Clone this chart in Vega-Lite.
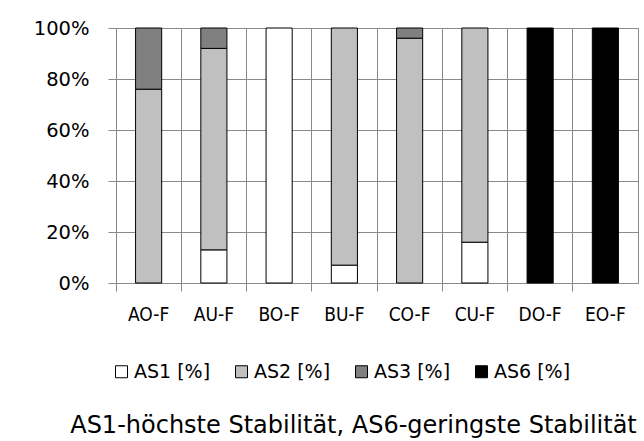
{
  "$schema": "https://vega.github.io/schema/vega-lite/v6.json",
  "autosize": {"type": "none"},
  "width": 522,
  "height": 255,
  "padding": {"left": 116, "top": 28, "right": 6, "bottom": 158},
  "background": "white",
  "config": {
    "view": {"stroke": "#8a8a8a", "strokeWidth": 1},
    "font": "DejaVu Sans"
  },
  "data": {
    "values": [
      {"probe": "AO-F", "klasse": "AS2 [%]", "anteil": 76},
      {"probe": "AO-F", "klasse": "AS3 [%]", "anteil": 24},
      {"probe": "AU-F", "klasse": "AS1 [%]", "anteil": 13},
      {"probe": "AU-F", "klasse": "AS2 [%]", "anteil": 79},
      {"probe": "AU-F", "klasse": "AS3 [%]", "anteil": 8},
      {"probe": "BO-F", "klasse": "AS1 [%]", "anteil": 100},
      {"probe": "BU-F", "klasse": "AS1 [%]", "anteil": 7},
      {"probe": "BU-F", "klasse": "AS2 [%]", "anteil": 93},
      {"probe": "CO-F", "klasse": "AS2 [%]", "anteil": 96},
      {"probe": "CO-F", "klasse": "AS3 [%]", "anteil": 4},
      {"probe": "CU-F", "klasse": "AS1 [%]", "anteil": 16},
      {"probe": "CU-F", "klasse": "AS2 [%]", "anteil": 84},
      {"probe": "DO-F", "klasse": "AS6 [%]", "anteil": 100},
      {"probe": "EO-F", "klasse": "AS6 [%]", "anteil": 100}
    ]
  },
  "mark": {"type": "bar", "width": {"band": 0.4}, "stroke": "black", "strokeWidth": 1},
  "encoding": {
    "x": {
      "field": "probe",
      "type": "nominal",
      "sort": null,
      "scale": {"paddingInner": 0, "paddingOuter": 0},
      "axis": {
        "bandPosition": 0,
        "grid": true,
        "gridColor": "#8a8a8a",
        "gridOpacity": 1,
        "domain": true,
        "domainColor": "#8a8a8a",
        "ticks": true,
        "tickColor": "#8a8a8a",
        "tickSize": 8,
        "labelAngle": 0,
        "labelFont": "DejaVu Sans Condensed, Roboto",
        "labelFontSize": 19,
        "labelColor": "black",
        "labelBaseline": "alphabetic",
        "labelPadding": 29,
        "title": "AS1-höchste Stabilität, AS6-geringste Stabilität",
        "titleFont": "DejaVu Sans",
        "titleFontSize": 24,
        "titleFontWeight": "normal",
        "titleColor": "black",
        "titleAnchor": null,
        "titleAlign": "center",
        "titleBaseline": "middle",
        "titleX": 237,
        "titleY": 142
      }
    },
    "y": {
      "field": "anteil",
      "type": "quantitative",
      "stack": "zero",
      "scale": {"domain": [0, 100]},
      "axis": {
        "values": [0, 20, 40, 60, 80, 100],
        "labelExpr": "datum.value + '%'",
        "grid": true,
        "gridColor": "#8a8a8a",
        "gridOpacity": 1,
        "domain": false,
        "tickColor": "#8a8a8a",
        "tickSize": 8,
        "labelPadding": 19,
        "labelFontSize": 19.5,
        "labelColor": "black",
        "labelBaseline": "middle",
        "title": null
      }
    },
    "color": {
      "field": "klasse",
      "type": "nominal",
      "scale": {
        "domain": ["AS1 [%]", "AS2 [%]", "AS3 [%]", "AS6 [%]"],
        "range": ["#ffffff", "#c0c0c0", "#808080", "#000000"]
      },
      "legend": {
        "orient": "none",
        "direction": "horizontal",
        "legendX": -4,
        "legendY": 334,
        "title": null,
        "symbolType": "square",
        "symbolSize": 144,
        "symbolStrokeColor": "black",
        "symbolStrokeWidth": 1,
        "symbolOpacity": 1,
        "labelFontSize": 19,
        "labelColor": "black",
        "labelOffset": 3,
        "columnPadding": 21
      }
    },
    "order": {"field": "klasse", "sort": "ascending"}
  }
}
